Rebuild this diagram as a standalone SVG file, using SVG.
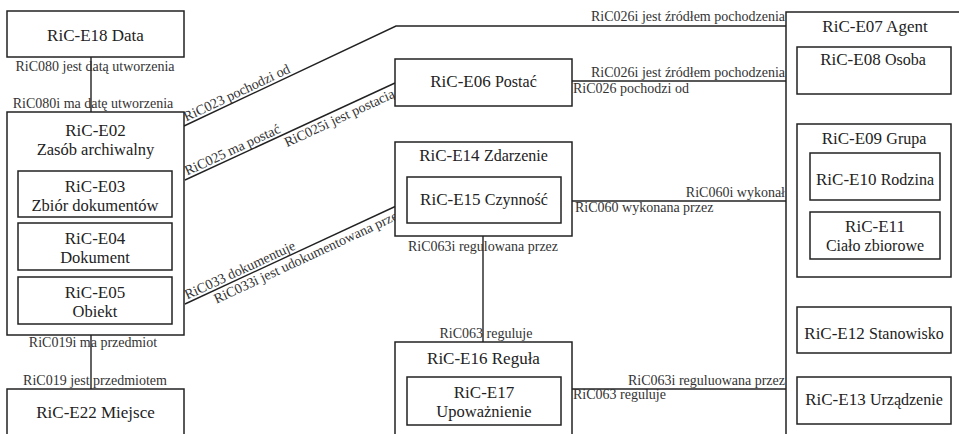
<svg xmlns="http://www.w3.org/2000/svg" width="959" height="434" viewBox="0 0 959 434">
<style>
.box{fill:#fff;stroke:#222;stroke-width:1.5}
.in{fill:none;stroke:#222;stroke-width:1.5}
.t{font-family:"Liberation Serif","Times New Roman",serif;font-size:17px;fill:#222;text-anchor:middle}
.s{font-size:16px}
.st{font-family:"Liberation Serif","Times New Roman",serif;font-size:16.5px;fill:#222;text-anchor:middle}
.l{font-family:"Liberation Serif","Times New Roman",serif;font-size:14px;fill:#333}
.c{fill:none;stroke:#222;stroke-width:1.4}
.e{text-anchor:end}
.m{text-anchor:middle}
</style>
<rect width="959" height="434" fill="#fff"/>
<g id="connectors">
<line class="c" x1="91" y1="57" x2="91" y2="112"/>
<line class="c" x1="91" y1="335" x2="91" y2="389"/>
<polyline class="c" points="184,126 396,26 786,26"/>
<line class="c" x1="185" y1="180" x2="395" y2="83"/>
<line class="c" x1="185" y1="304" x2="407" y2="201"/>
<line class="c" x1="572" y1="81" x2="786" y2="81"/>
<line class="c" x1="561" y1="201" x2="786" y2="201"/>
<line class="c" x1="483" y1="223" x2="483" y2="342"/>
<line class="c" x1="572" y1="389" x2="786" y2="389"/>
<text class="l m" x="95" y="71">RiC080 jest datą utworzenia</text>
<text class="l m" x="93" y="108">RiC080i ma datę utworzenia</text>
<text class="l m" x="93" y="347">RiC019i ma przedmiot</text>
<text class="l m" x="95" y="385">RiC019 jest przedmiotem</text>
<g transform="translate(184,126) rotate(-25.25)"><text class="l" x="4" y="-3">RiC023 pochodzi od</text></g>
<text class="l e" x="785" y="21">RiC026i jest źródłem pochodzenia</text>
<g transform="translate(185,180) rotate(-24.8)"><text class="l" x="4" y="-3">RiC025 ma postać</text><text class="l e" x="226" y="13">RiC025i jest postacią</text></g>
<g transform="translate(185,304) rotate(-24.9)"><text class="l" x="4" y="-3">RiC033 dokumentuje</text><text class="l e" x="236" y="13">RiC033i jest udokumentowana przez</text></g>
<text class="l e" x="785" y="77">RiC026i jest źródłem pochodzenia</text>
<text class="l" x="573" y="93">RiC026 pochodzi od</text>
<text class="l e" x="785" y="197">RiC060i wykonał</text>
<text class="l" x="575" y="212">RiC060 wykonana przez</text>
<text class="l m" x="483" y="251">RiC063i regulowana przez</text>
<text class="l m" x="486" y="338">RiC063 reguluje</text>
<text class="l e" x="785" y="385">RiC063i reguluowana przez</text>
<text class="l" x="573" y="399">RiC063 reguluje</text>
</g>
<g id="E18"><rect class="box" x="7" y="11" width="177" height="46"/><text class="t" x="95.5" y="41">RiC-E18 Data</text></g>
<g id="E02"><rect class="box" x="7" y="112" width="177" height="223"/><text class="t" x="95.5" y="136">RiC-E02</text><text class="st" x="95.5" y="155">Zasób archiwalny</text></g>
<g id="E03"><rect class="in" x="18" y="171" width="154" height="46"/><text class="t" x="95" y="192">RiC-E03</text><text class="st" x="95" y="211">Zbiór dokumentów</text></g>
<g id="E04"><rect class="in" x="18" y="223" width="154" height="47"/><text class="t" x="95" y="244">RiC-E04</text><text class="st" x="95" y="263">Dokument</text></g>
<g id="E05"><rect class="in" x="18" y="277" width="154" height="47"/><text class="t" x="95" y="298">RiC-E05</text><text class="st" x="95" y="317">Obiekt</text></g>
<g id="E22"><rect class="box" x="7" y="389" width="177" height="60"/><text class="t" x="95.5" y="418">RiC-E22 Miejsce</text></g>
<g id="E06"><rect class="box" x="395" y="59" width="177" height="47"/><text class="t" x="483.5" y="87">RiC-E06 <tspan class="s">Postać</tspan></text></g>
<g id="E14"><rect class="box" x="395" y="142" width="177" height="94"/><text class="t" x="483.5" y="161">RiC-E14 <tspan class="s">Zdarzenie</tspan></text></g>
<g id="E15"><rect class="box" x="407" y="177" width="154" height="46"/><text class="t" x="484" y="205">RiC-E15 <tspan class="s">Czynność</tspan></text></g>
<g id="E16"><rect class="box" x="395" y="342" width="177" height="110"/><text class="t" x="483.5" y="364">RiC-E16 Reguła</text></g>
<g id="E17"><rect class="in" x="407" y="377" width="154" height="48"/><text class="t" x="484" y="398">RiC-E17</text><text class="st" x="484" y="417">Upoważnienie</text></g>
<g id="E07"><rect class="box" x="786" y="12" width="200" height="440"/><text class="t" x="875" y="32">RiC-E07 Agent</text></g>
<g id="E08"><rect class="in" x="797" y="47" width="154" height="47"/><text class="t" x="873" y="65">RiC-E08 <tspan class="s">Osoba</tspan></text></g>
<g id="E09"><rect class="in" x="797" y="124" width="154" height="153"/><text class="t" x="874" y="144">RiC-E09 <tspan class="s">Grupa</tspan></text></g>
<g id="E10"><rect class="in" x="810" y="153" width="130" height="47"/><text class="t" x="875" y="185">RiC-E10 <tspan class="s">Rodzina</tspan></text></g>
<g id="E11"><rect class="in" x="810" y="212" width="130" height="47"/><text class="t" x="875" y="232">RiC-E11</text><text class="st" x="875" y="251" style="font-size:16px">Ciało zbiorowe</text></g>
<g id="E12"><rect class="in" x="797" y="307" width="154" height="46"/><text class="t" x="874" y="339">RiC-E12 <tspan class="s">Stanowisko</tspan></text></g>
<g id="E13"><rect class="in" x="797" y="377" width="154" height="47"/><text class="t" x="874" y="405">RiC-E13 <tspan class="s">Urządzenie</tspan></text></g>
</svg>
